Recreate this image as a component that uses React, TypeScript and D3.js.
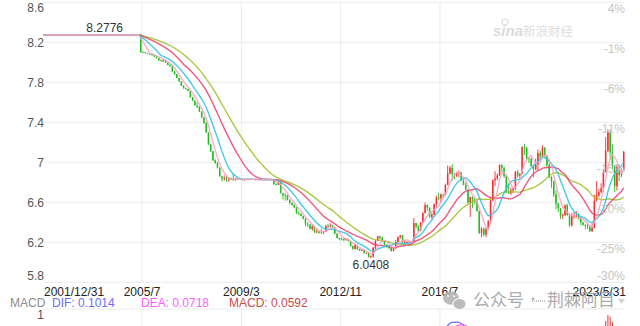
import React from "react";
import * as d3 from "d3";

// ---- Data (monthly USD/CNY, 2001/12 .. 2023/5) ----
// Peg period 2001/12 .. 2005/6 (43 months)
const pegCloses = [
  8.2765, 8.2765, 8.2765, 8.2765, 8.2765, 8.2765, 8.2765, 8.2765, 8.2765, 8.2765,
  8.2765, 8.2765, 8.2765, 8.2765, 8.2765, 8.2765, 8.2765, 8.2765, 8.2765, 8.2765,
  8.2765, 8.2765, 8.2765, 8.2765, 8.2765, 8.2765, 8.2765, 8.2765, 8.2765, 8.2765,
  8.2765, 8.2765, 8.2765, 8.2765, 8.2765, 8.2765, 8.2765, 8.2765, 8.2765, 8.2765,
  8.2765, 8.2765, 8.2765,
];
const pegHighs = [
  8.2766, 8.2766, 8.2766, 8.2766, 8.2766, 8.2766, 8.2766, 8.2766, 8.2766, 8.2766,
  8.2766, 8.2766, 8.2766, 8.2766, 8.2766, 8.2766, 8.2766, 8.2766, 8.2766, 8.2766,
  8.2766, 8.2766, 8.2766, 8.2766, 8.2766, 8.2766, 8.2766, 8.2776, 8.2766, 8.2766,
  8.2766, 8.2766, 8.2766, 8.2766, 8.2766, 8.2766, 8.2766, 8.2766, 8.2766, 8.2766,
  8.2766, 8.2766, 8.2766,
];

// 2005/7 .. 2023/5
const postOpens = [
  8.2765, 8.1015, 8.1000, 8.0920, 8.0830, 8.0800,
  8.0702, 8.0590, 8.0420, 8.0200, 8.0180, 8.0200, 7.9960, 7.9720, 7.9610, 7.9070, 7.8810, 7.8440,
  7.8087, 7.7660, 7.7410, 7.7310, 7.7150, 7.6510, 7.6160, 7.5700, 7.5580, 7.5080, 7.4500, 7.3920,
  7.2970, 7.1780, 7.1100, 7.0190, 6.9920, 6.9460, 6.8600, 6.8400, 6.8400, 6.8290, 6.8360, 6.8330,
  6.8220, 6.8380, 6.8360, 6.8280, 6.8230, 6.8290, 6.8310, 6.8320, 6.8310, 6.8270, 6.8270, 6.8270,
  6.8260, 6.8280, 6.8270, 6.8260, 6.8250, 6.8290, 6.7810, 6.7750, 6.8040, 6.6910, 6.6710, 6.6700,
  6.6230, 6.5950, 6.5720, 6.5480, 6.4920, 6.4830, 6.4640, 6.4370, 6.3860, 6.3770, 6.3340, 6.3580,
  6.2990, 6.3080, 6.2960, 6.2940, 6.3080, 6.3650, 6.3580, 6.3690, 6.3470, 6.2880, 6.2420, 6.2360,
  6.2320, 6.2210, 6.2320, 6.2120, 6.1630, 6.1340, 6.1700, 6.1310, 6.1180, 6.1210, 6.0940, 6.0940,
  6.0540, 6.0600, 6.1450, 6.2150, 6.2600, 6.2460, 6.2070, 6.1770, 6.1530, 6.1430, 6.1130, 6.1470,
  6.2040, 6.2500, 6.2700, 6.1980, 6.2000, 6.2000, 6.2050, 6.2100, 6.3920, 6.3560, 6.3190, 6.3990,
  6.4936, 6.5710, 6.5460, 6.4540, 6.4760, 6.5810, 6.6460, 6.6410, 6.6780, 6.6740, 6.7740, 6.8870,
  6.9460, 6.8820, 6.8690, 6.8910, 6.8990, 6.8160, 6.7740, 6.7270, 6.5950, 6.6530, 6.6380, 6.6090,
  6.5120, 6.2940, 6.3350, 6.2770, 6.3290, 6.4130, 6.6170, 6.8200, 6.8370, 6.8700, 6.9720, 6.9470,
  6.8630, 6.7020, 6.6920, 6.7193, 6.7369, 6.9030, 6.8650, 6.8840, 7.1550, 7.1480, 7.0390, 7.0330,
  6.9610, 6.9300, 6.9810, 7.0920, 7.0570, 7.1480, 7.0670, 6.9740, 6.8500, 6.8100, 6.6800, 6.5870,
  6.5398, 6.4650, 6.4730, 6.5700, 6.4710, 6.3720, 6.4580, 6.4590, 6.4650, 6.4470, 6.3980, 6.3740,
  6.3730, 6.3600, 6.3110, 6.3430, 6.6170, 6.6690, 6.7010, 6.7410, 6.9040, 7.1160, 7.3030, 7.1000,
  6.9646, 6.7604, 6.9519, 6.8717, 6.9182,
];
const postHighs = [
  8.2765, 8.1080, 8.1010, 8.0930, 8.0850, 8.0820,
  8.0720, 8.0620, 8.0440, 8.0270, 8.0320, 8.0250, 8.0000, 7.9850, 7.9640, 7.9170, 7.8830, 7.8460,
  7.8100, 7.7700, 7.7450, 7.7350, 7.7180, 7.6560, 7.6180, 7.6000, 7.5630, 7.5100, 7.4530, 7.4020,
  7.3010, 7.1860, 7.1150, 7.0300, 7.0060, 6.9500, 6.8640, 6.8700, 6.8650, 6.8510, 6.8480, 6.8850,
  6.8450, 6.8470, 6.8430, 6.8330, 6.8330, 6.8350, 6.8340, 6.8350, 6.8330, 6.8290, 6.8290, 6.8290,
  6.8300, 6.8330, 6.8290, 6.8290, 6.8330, 6.8310, 6.7900, 6.8100, 6.8070, 6.6930, 6.6900, 6.6780,
  6.6300, 6.5960, 6.5790, 6.5500, 6.5100, 6.4900, 6.4660, 6.4410, 6.3990, 6.3830, 6.3800, 6.3650,
  6.3300, 6.3100, 6.3380, 6.3150, 6.3700, 6.3840, 6.3890, 6.3720, 6.3480, 6.2900, 6.2460, 6.2480,
  6.2400, 6.2460, 6.2380, 6.2150, 6.1680, 6.1900, 6.1770, 6.1360, 6.1310, 6.1220, 6.0970, 6.0960,
  6.0680, 6.1550, 6.2220, 6.2640, 6.2650, 6.2570, 6.2090, 6.1790, 6.1560, 6.1480, 6.1530, 6.2240,
  6.2600, 6.2720, 6.2700, 6.2200, 6.2100, 6.2100, 6.2110, 6.4430, 6.3940, 6.3750, 6.3990, 6.5000,
  6.5960, 6.5800, 6.5490, 6.5010, 6.5860, 6.6660, 6.6950, 6.6880, 6.6840, 6.7870, 6.9670, 6.9640,
  6.9800, 6.8920, 6.9050, 6.9180, 6.9050, 6.8320, 6.7990, 6.7290, 6.6540, 6.6590, 6.6450, 6.6270,
  6.5200, 6.3520, 6.3490, 6.3460, 6.4210, 6.6400, 6.8280, 6.9110, 6.8880, 6.9790, 6.9810, 6.9560,
  6.8760, 6.7890, 6.7470, 6.7470, 6.9150, 6.9250, 6.8950, 7.1570, 7.1850, 7.1510, 7.0480, 7.0450,
  6.9780, 7.0400, 7.1280, 7.1150, 7.1700, 7.1490, 7.0740, 6.9920, 6.8620, 6.8170, 6.7200, 6.5950,
  6.5400, 6.4900, 6.5800, 6.5850, 6.4870, 6.4930, 6.4980, 6.5110, 6.4900, 6.4580, 6.4070, 6.3800,
  6.3810, 6.3630, 6.3900, 6.6750, 6.8120, 6.7330, 6.7900, 6.9300, 7.2520, 7.3280, 7.3270, 7.1800,
  6.9700, 6.9800, 6.9800, 6.9400, 7.1130,
];
const postLows = [
  8.0950, 8.0950, 8.0890, 8.0800, 8.0760, 8.0680,
  8.0550, 8.0380, 8.0150, 8.0050, 8.0030, 7.9930, 7.9700, 7.9570, 7.9050, 7.8760, 7.8400, 7.8060,
  7.7620, 7.7370, 7.7280, 7.7090, 7.6470, 7.6130, 7.5660, 7.5410, 7.5030, 7.4450, 7.3870, 7.2950,
  7.1750, 7.1060, 7.0150, 6.9850, 6.9380, 6.8560, 6.8080, 6.8160, 6.8050, 6.8040, 6.8230, 6.8140,
  6.8180, 6.8300, 6.8250, 6.8190, 6.8170, 6.8260, 6.8290, 6.8300, 6.8260, 6.8250, 6.8260, 6.8250,
  6.8250, 6.8250, 6.8250, 6.8230, 6.8240, 6.7780, 6.7680, 6.7750, 6.6900, 6.6300, 6.6150, 6.6180,
  6.5800, 6.5670, 6.5450, 6.4850, 6.4750, 6.4600, 6.4300, 6.3600, 6.3520, 6.3290, 6.3150, 6.2940,
  6.2900, 6.2860, 6.2890, 6.2800, 6.3020, 6.3410, 6.3500, 6.3410, 6.2830, 6.2390, 6.2200, 6.2190,
  6.2120, 6.2190, 6.2070, 6.1570, 6.1260, 6.1290, 6.1250, 6.1120, 6.1160, 6.0850, 6.0890, 6.0480,
  6.0408, 6.0450, 6.1200, 6.2140, 6.2300, 6.2010, 6.1700, 6.1450, 6.1320, 6.1060, 6.1090, 6.1330,
  6.1960, 6.2360, 6.1880, 6.1850, 6.1910, 6.1990, 6.2040, 6.2080, 6.3390, 6.3000, 6.3120, 6.3980,
  6.4900, 6.5150, 6.4450, 6.4300, 6.4720, 6.5510, 6.6200, 6.5920, 6.6450, 6.6710, 6.7710, 6.8800,
  6.8150, 6.8300, 6.8510, 6.8470, 6.8120, 6.7710, 6.7230, 6.5910, 6.4530, 6.5440, 6.5810, 6.5090,
  6.2840, 6.2530, 6.2590, 6.2520, 6.3190, 6.3960, 6.6160, 6.7640, 6.8210, 6.8640, 6.9010, 6.8440,
  6.6950, 6.6840, 6.6720, 6.6890, 6.7210, 6.8440, 6.8270, 6.8830, 7.0720, 7.0300, 6.9930, 6.9570,
  6.8500, 6.9200, 6.9160, 7.0330, 7.0510, 7.0440, 6.9520, 6.8420, 6.7450, 6.6530, 6.5300, 6.5040,
  6.4340, 6.4320, 6.4610, 6.4670, 6.3540, 6.3560, 6.4380, 6.4530, 6.4260, 6.3720, 6.3660, 6.3300,
  6.3340, 6.3050, 6.3050, 6.3400, 6.6080, 6.6480, 6.6900, 6.7020, 6.9040, 7.1010, 7.0230, 6.9300,
  6.7020, 6.7160, 6.8120, 6.8520, 6.9160,
];
const postCloses = [
  8.1015, 8.1000, 8.0920, 8.0830, 8.0800, 8.0702,
  8.0590, 8.0420, 8.0200, 8.0180, 8.0200, 7.9960, 7.9720, 7.9610, 7.9070, 7.8810, 7.8440, 7.8087,
  7.7660, 7.7410, 7.7310, 7.7150, 7.6510, 7.6160, 7.5700, 7.5580, 7.5080, 7.4500, 7.3920, 7.2970,
  7.1780, 7.1100, 7.0190, 6.9920, 6.9460, 6.8600, 6.8400, 6.8400, 6.8290, 6.8360, 6.8330, 6.8220,
  6.8380, 6.8360, 6.8280, 6.8230, 6.8290, 6.8310, 6.8320, 6.8310, 6.8270, 6.8270, 6.8270, 6.8260,
  6.8280, 6.8270, 6.8260, 6.8250, 6.8290, 6.7810, 6.7750, 6.8040, 6.6910, 6.6710, 6.6700, 6.6230,
  6.5950, 6.5720, 6.5480, 6.4920, 6.4830, 6.4640, 6.4370, 6.3860, 6.3770, 6.3340, 6.3580, 6.2990,
  6.3080, 6.2960, 6.2940, 6.3080, 6.3650, 6.3580, 6.3690, 6.3470, 6.2880, 6.2420, 6.2360, 6.2320,
  6.2210, 6.2320, 6.2120, 6.1630, 6.1340, 6.1700, 6.1310, 6.1180, 6.1210, 6.0940, 6.0940, 6.0540,
  6.0600, 6.1450, 6.2150, 6.2600, 6.2460, 6.2070, 6.1770, 6.1530, 6.1430, 6.1130, 6.1470, 6.2040,
  6.2500, 6.2700, 6.1980, 6.2000, 6.2000, 6.2050, 6.2100, 6.3920, 6.3560, 6.3190, 6.3990, 6.4936,
  6.5710, 6.5460, 6.4540, 6.4760, 6.5810, 6.6460, 6.6410, 6.6780, 6.6740, 6.7740, 6.8870, 6.9460,
  6.8820, 6.8690, 6.8910, 6.8990, 6.8160, 6.7740, 6.7270, 6.5950, 6.6530, 6.6380, 6.6090, 6.5120,
  6.2940, 6.3350, 6.2770, 6.3290, 6.4130, 6.6170, 6.8200, 6.8370, 6.8700, 6.9720, 6.9470, 6.8630,
  6.7020, 6.6920, 6.7193, 6.7369, 6.9030, 6.8650, 6.8840, 7.1550, 7.1480, 7.0390, 7.0330, 6.9610,
  6.9300, 6.9810, 7.0920, 7.0570, 7.1480, 7.0670, 6.9740, 6.8500, 6.8100, 6.6800, 6.5870, 6.5398,
  6.4650, 6.4730, 6.5700, 6.4710, 6.3720, 6.4580, 6.4590, 6.4650, 6.4470, 6.3980, 6.3740, 6.3730,
  6.3600, 6.3110, 6.3430, 6.6170, 6.6690, 6.7010, 6.7410, 6.9040, 7.1160, 7.3030, 7.1000, 6.9646,
  6.7604, 6.9519, 6.8717, 6.9182, 7.1050,
];

const opens = [...pegCloses, ...postOpens];
const highs = [...pegHighs, ...postHighs];
const lows = [...pegCloses, ...postLows];
const closes = [...pegCloses, ...postCloses];

const yTicks = [8.6, 8.2, 7.8, 7.4, 7.0, 6.6, 6.2, 5.8];
const yTickLabels = ["8.6", "8.2", "7.8", "7.4", "7", "6.6", "6.2", "5.8"];
const xTickIndex = [0, 43, 87, 131, 175, 257];
const xTickLabels = ["2001/12/31", "2005/7", "2009/3", "2012/11", "2016/7", "2023/5/31"];
const maPeriods = [30, 20, 10, 5];
const maColors = ["#9cbf24", "#ee3a6c", "#26c2e6", "#ffa0bf"];
const basePrice = 8.2776;
const legendItems = [
  { text: "DIF: 0.1014", color: "#6c6cff", x: 52 },
  { text: "DEA: 0.0718", color: "#ff5cff", x: 141 },
  { text: "MACD: 0.0592", color: "#c94a4a", x: 229 },
];

const FONT = "'Liberation Sans', Arial, sans-serif";
const CJK = "'Noto Sans CJK SC', sans-serif";

export default function App() {
  const n = closes.length;
  const X0 = 45, X1 = 625;
  const PT = 2.3, PB = 282.3;
  const off = -1.3;
  const x = d3.scaleLinear().domain([0, n - 1]).range([X0, X1]);
  const cx = (i: number) => x(i) + off;
  const y = d3.scaleLinear().domain([5.8, 8.6]).range([PB, PT]);

  const mas = maPeriods.map((p) =>
    closes.map((_, i) => d3.mean(closes.slice(Math.max(0, i - p + 1), i + 1)) as number)
  );
  const line = d3.line<number>().x((_, i) => cx(i)).y((d) => y(d));

  const ema = (arr: number[], p: number) => {
    const a = 2 / (p + 1);
    const out: number[] = [];
    arr.forEach((v, i) => out.push(i === 0 ? v : a * v + (1 - a) * out[i - 1]));
    return out;
  };
  const e12 = ema(closes, 12);
  const e26 = ema(closes, 26);
  const dif = e12.map((v, i) => v - e26[i]);
  const dea = ema(dif, 9);
  const macd = dif.map((v, i) => 2 * (v - dea[i]));
  const mMax = d3.max([...dif, ...dea, ...macd]) as number;
  const MT = 309;
  const yM = d3.scaleLinear().domain([0, mMax]).range([315 + mMax * 150, 315]);
  const mLine = d3.line<number>().x((_, i) => cx(i)).y((d) => yM(d));

  const maxI = d3.maxIndex(highs);
  const minI = d3.minIndex(lows);

  const vGrid = xTickIndex.slice(1, -1).map((i) => x(i));

  return (
    <svg width={640} height={326} style={{ position: "absolute", left: 0, top: 0, background: "#fff" }}>
      <defs>
        <clipPath id="mpane">
          <rect x={X0} y={MT} width={X1 - X0} height={100} />
        </clipPath>
      </defs>
      {/* grid */}
      {yTicks.map((t, k) => (
        <line key={"h" + k} x1={X0 - 1} x2={X1} y1={y(t)} y2={y(t)} stroke="#ebebeb" strokeWidth={1} />
      ))}
      {vGrid.map((gx, k) => (
        <g key={"v" + k}>
          <line x1={gx} x2={gx} y1={PT} y2={PB} stroke="#ebebeb" strokeWidth={1} />
          <line x1={gx} x2={gx} y1={MT} y2={326} stroke="#ebebeb" strokeWidth={1} />
        </g>
      ))}
      <line x1={X0 - 1} x2={X1} y1={MT} y2={MT} stroke="#ebebeb" strokeWidth={1} />

      {/* sina watermark */}
      <g opacity={0.6}>
        <circle cx={505} cy={22} r={3} fill="none" stroke="#c9c9c9" strokeWidth={1.2} />
        <text x={493} y={36} fontFamily={FONT} fontStyle="italic" fontWeight="bold" fontSize={15} fill="#c4c4c4">sina</text>
        <text x={523} y={36} fontFamily={CJK} fontSize={12.5} fill="#c8c8c8">新浪财经</text>
      </g>

      {/* candles */}
      {closes.map((c, i) => {
        const o = opens[i];
        const up = c >= o;
        const col = up ? "#ff2b2b" : "#1fbf1f";
        const top = y(Math.max(o, c));
        const h = Math.max(0.8, Math.abs(y(o) - y(c)));
        return (
          <g key={"c" + i}>
            <line x1={cx(i)} x2={cx(i)} y1={y(highs[i])} y2={y(lows[i])} stroke={col} strokeWidth={0.9} />
            <rect x={cx(i) - 0.75} y={top} width={1.5} height={h} fill={col} />
          </g>
        );
      })}

      {/* moving averages */}
      {mas.map((m, k) => (
        <path key={"ma" + k} d={line(m) || ""} fill="none" stroke={maColors[k]} strokeWidth={1.4} opacity={0.85} />
      ))}

      {/* max / min labels */}
      <text x={cx(maxI)} y={y(highs[maxI]) - 3} textAnchor="middle" fontFamily={FONT} fontSize={12} fill="#333">
        {highs[maxI].toFixed(4)}
      </text>
      <text x={cx(minI)} y={y(lows[minI]) + 11} textAnchor="middle" fontFamily={FONT} fontSize={12} fill="#333">
        {lows[minI].toFixed(4)}
      </text>

      {/* left axis labels */}
      {yTicks.map((t, k) => (
        <text key={"yl" + k} x={44} y={Math.min(276, Math.max(8.2, y(t)))} dy="0.35em" textAnchor="end"
          fontFamily={FONT} fontSize={12} fill="#555">{yTickLabels[k]}</text>
      ))}
      {/* right axis labels (percent vs base) */}
      {yTicks.map((t, k) => (
        <text key={"yr" + k} x={625} y={Math.min(276, y(t) + 6)} dy="0.35em" textAnchor="end"
          fontFamily={FONT} fontSize={12} fill="#c6c6c6">
          {Math.round((t / basePrice - 1) * 100) + "%"}
        </text>
      ))}
      {/* x axis labels */}
      {xTickIndex.map((i, k) => (
        <text key={"xl" + k} x={k === 0 ? 44 : k === xTickIndex.length - 1 ? 626 : x(i)} y={295.5}
          textAnchor={k === 0 ? "start" : k === xTickIndex.length - 1 ? "end" : "middle"}
          fontFamily={FONT} fontSize={12} fill="#222">{xTickLabels[k]}</text>
      ))}

      {/* MACD legend */}
      <text x={10} y={306.5} fontFamily={FONT} fontSize={12} fill="#8c8c8c">MACD</text>
      {legendItems.map((it, k) => (
        <text key={"lg" + k} x={it.x} y={306.5} fontFamily={FONT} fontSize={12} fill={it.color}>{it.text}</text>
      ))}
      <text x={44} y={319} textAnchor="end" fontFamily={FONT} fontSize={12} fill="#555">1</text>

      {/* MACD pane */}
      <g clipPath="url(#mpane)">
        {macd.map((v, i) => (
          <line key={"mb" + i} x1={cx(i)} x2={cx(i)} y1={yM(0)} y2={yM(v)} stroke={v >= 0 ? "#ff2b2b" : "#1fbf1f"} strokeWidth={1} />
        ))}
        <path d={mLine(dif) || ""} fill="none" stroke="#6c6cff" strokeWidth={1.2} />
        <path d={mLine(dea) || ""} fill="none" stroke="#ff5cff" strokeWidth={1.2} />
      </g>

      {/* WeChat overlay watermark */}
      <g opacity={0.9}>
        <ellipse cx={451} cy={298} rx={8} ry={6.8} fill="#b4b4b4" />
        <ellipse cx={459.5} cy={304} rx={6.5} ry={5.5} fill="#b4b4b4" stroke="#fff" strokeWidth={1} />
        <circle cx={448} cy={296} r={1} fill="#fff" />
        <circle cx={454} cy={296} r={1} fill="#fff" />
        <text x={473} y={306} fontFamily={CJK} fontSize={17} fill="#a3a3a3">公众号</text>
        <text x={527} y={304} fontFamily={CJK} fontSize={12} fill="#a3a3a3">·</text>
        <line x1={532} x2={545} y1={301} y2={301} stroke="#bdbdbd" strokeWidth={2} strokeDasharray="1 1" />
        <text x={547} y={306} fontFamily={CJK} fontSize={17} fill="#a3a3a3">荆棘阿目</text>
        <path d="M618,299 L625,299 L621.5,304 Z" fill="#d0d0d0" />
      </g>
    </svg>
  );
}
